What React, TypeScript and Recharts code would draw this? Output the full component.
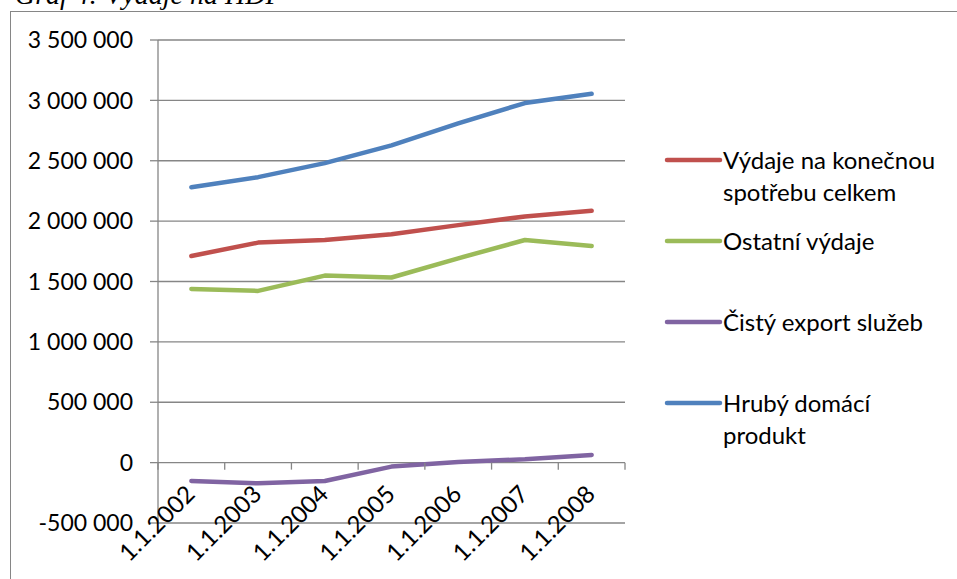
import React from 'react';
import { LineChart, Line, XAxis, YAxis, CartesianGrid, Legend } from 'recharts';

const years = ['1.1.2002', '1.1.2003', '1.1.2004', '1.1.2005', '1.1.2006', '1.1.2007', '1.1.2008'];

const spotreba = [1711000, 1822000, 1844000, 1892000, 1967000, 2039000, 2086000];
const ostatni = [1438000, 1422000, 1549000, 1533000, 1692000, 1844000, 1794000];
const exportSluzeb = [-152000, -171000, -152000, -33000, 6000, 28000, 64000];
const hdp = [2281000, 2364000, 2480000, 2627000, 2809000, 2978000, 3055000];

const yTicks = [-500000, 0, 500000, 1000000, 1500000, 2000000, 2500000, 3000000, 3500000];

const series = [
  { key: 'spotreba', name: 'Výdaje na konečnou spotřebu celkem', color: '#C0504D' },
  { key: 'ostatni', name: 'Ostatní výdaje', color: '#9BBB59' },
  { key: 'exportSluzeb', name: 'Čistý export služeb', color: '#8064A2' },
  { key: 'hdp', name: 'Hrubý domácí produkt', color: '#4F81BD' },
];

const data = years.map((date, i) => ({
  date,
  spotreba: spotreba[i],
  ostatni: ostatni[i],
  exportSluzeb: exportSluzeb[i],
  hdp: hdp[i],
}));

const W = 957;
const H = 579;
const MARGIN = { top: 40, right: 332, bottom: 0, left: 8 };
const Y_AXIS_W = 150;
const X_AXIS_H = 56;
const PLOT_W = W - MARGIN.left - MARGIN.right - Y_AXIS_W;
const PLOT_H = H - MARGIN.top - MARGIN.bottom - X_AXIS_H;
const Y_MIN = -500000;
const Y_MAX = 3500000;
// the category axis crosses the value axis at zero, not at the bottom
const ZERO_UP = (PLOT_H * (0 - Y_MIN)) / (Y_MAX - Y_MIN);
const BAND = PLOT_W / years.length;

const AXIS_GRAY = '#868686';
const FONT = 'Lato, "Open Sans", sans-serif';

const fmt = (v: number) => {
  const s = Math.abs(v).toString().replace(/\B(?=(\d{3})+(?!\d))/g, ' ');
  return v < 0 ? `-${s}` : s;
};

const CategoryTick = (props: any) => {
  const { x, y, payload, index } = props;
  const y0 = y - ZERO_UP;
  const lx = x + 5;
  const ly = y0 + 33;
  return (
    <g>
      <line x1={x + BAND / 2} y1={y0} x2={x + BAND / 2} y2={y0 + 7} stroke={AXIS_GRAY} strokeWidth={1.3} />
      {index === 0 && <line x1={x - BAND / 2} y1={y0} x2={x - BAND / 2} y2={y0 + 7} stroke={AXIS_GRAY} strokeWidth={1.3} />}
      <text
        x={lx}
        y={ly}
        textAnchor="end"
        transform={`rotate(-45 ${lx} ${ly})`}
        fontFamily={FONT}
        fontSize={24}
        fill="#000"
      >
        {payload.value}
      </text>
    </g>
  );
};

const LegendBox = () => (
  <div style={{ fontFamily: FONT, fontSize: 24, lineHeight: '32px', color: '#000', textAlign: 'left' }}>
    {series.map((s) => (
      <div key={s.key} style={{ height: 81, display: 'flex', alignItems: 'flex-start' }}>
        <svg width={60} height={32} style={{ flex: 'none' }}>
          <line x1={4} y1={16} x2={57} y2={16} stroke={s.color} strokeWidth={4.5} strokeLinecap="round" />
        </svg>
        <span style={{ width: 226 }}>{s.name}</span>
      </div>
    ))}
  </div>
);

export default function App() {
  return (
    <div style={{ position: 'absolute', left: 0, top: 0, width: W, height: H, overflow: 'hidden', background: '#fff' }}>
      <div
        style={{
          position: 'absolute',
          left: 15,
          top: -19,
          fontFamily: '"Liberation Serif", serif',
          fontStyle: 'italic',
          fontSize: 28,
          lineHeight: '28px',
          whiteSpace: 'nowrap',
        }}
      >
        Graf 4: Výdaje na HDP
      </div>
      <div
        style={{
          position: 'absolute',
          left: 10,
          top: 11,
          width: 1000,
          height: 700,
          border: `1.5px solid ${AXIS_GRAY}`,
        }}
      />
      <div style={{ position: 'absolute', left: 0, top: 0 }}>
        <LineChart width={W} height={H} data={data} margin={MARGIN}>
          <CartesianGrid vertical={false} stroke={AXIS_GRAY} strokeWidth={1.3} />
          <XAxis
            dataKey="date"
            scale="band"
            height={X_AXIS_H}
            axisLine={false}
            tickLine={false}
            tickSize={0}
            tickMargin={0}
            interval={0}
            tick={<CategoryTick />}
          />
          <YAxis
            width={Y_AXIS_W}
            domain={[Y_MIN, Y_MAX]}
            ticks={yTicks}
            tickFormatter={fmt}
            axisLine={{ stroke: AXIS_GRAY, strokeWidth: 1.3 }}
            tickLine={{ stroke: AXIS_GRAY, strokeWidth: 1.3 }}
            tickSize={8}
            tickMargin={17}
            tick={{ fill: '#000', fontSize: 23, fontFamily: FONT }}
          />
          <Legend
            layout="horizontal"
            verticalAlign="middle"
            align="center"
            wrapperStyle={{ left: 663, top: 144, width: 290 }}
            content={<LegendBox />}
          />
          {series.map((s) => (
            <Line
              key={s.key}
              dataKey={s.key}
              name={s.name}
              type="linear"
              stroke={s.color}
              strokeWidth={4.5}
              strokeLinecap="round"
              strokeLinejoin="round"
              dot={false}
              activeDot={false}
              isAnimationActive={false}
            />
          ))}
        </LineChart>
      </div>
    </div>
  );
}
